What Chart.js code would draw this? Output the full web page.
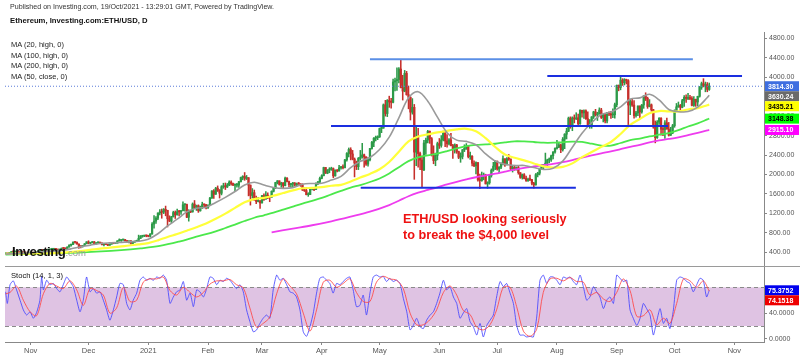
<!DOCTYPE html>
<html><head><meta charset="utf-8">
<script src="https://cdn.jsdelivr.net/npm/chart.js@4.4.0/dist/chart.umd.min.js"></script>
<style>
html,body{margin:0;padding:0;background:#fff;}
#wrap{position:relative;width:800px;height:357px;overflow:hidden;font-family:"Liberation Sans",Arial,sans-serif;background:#fff;}
canvas{position:absolute;left:0;top:0;}
.t{position:absolute;white-space:nowrap;color:#222;line-height:10px;}
</style></head><body>
<div id="wrap">
<canvas id="stoch" width="800" height="357" style="width:800px;height:357px"></canvas>
<canvas id="main" width="800" height="357" style="width:800px;height:357px"></canvas>
<div class="t" style="left:10px;top:2px;font-size:7.1px;color:#333">Published on Investing.com, 19/Oct/2021 - 13:29:01 GMT, Powered by TradingView.</div>
<div class="t" style="left:10px;top:16px;font-size:7.7px;font-weight:bold;color:#111">Ethereum, Investing.com:ETH/USD, D</div>
<div class="t" style="left:11px;top:40px;font-size:7.5px;color:#222;line-height:10.5px">MA (20, high, 0)<br>MA (100, high, 0)<br>MA (200, high, 0)<br>MA (50, close, 0)</div>
<div class="t" style="left:11px;top:271px;font-size:7.6px;color:#111">Stoch (14, 1, 3)</div>
<div class="t" style="left:403px;top:211px;font-size:12.7px;font-weight:bold;color:#ee1111;line-height:16px">ETH/USD looking seriously<br>to break the $4,000 level</div>
<div class="t" style="left:12px;top:244px;line-height:14px"><span style="font-size:13.2px;font-weight:bold;color:#111;letter-spacing:-0.5px">Investing</span><span style="font-size:9.5px;color:#999">.com</span></div>
<div style="position:absolute;left:5px;top:266px;width:795px;height:1px;background:#9a9a9a"></div>
</div>
<script>
// ---------- DATA ----------
// daily candles, 19 Oct 2020 (day 0) .. 19 Oct 2021 (day 365)
const firstOpen = 368;
const closes = [
379,368,392,413,409,412,406,393,404,388,386,383,386,
396,383,388,402,415,454,435,454,444,449,462,462,475,461,448,460,480,479,472,509,549,558,608,603,569,518,517,538,575,614,
587,598,616,570,596,601,591,555,573,559,545,568,590,586,589,636,643,655,659,638,609,634,584,612,626,637,685,730,732,751,737,
730,775,979,1041,1100,1208,1225,1224,1281,1262,1090,1043,1130,1218,1171,1233,1230,1257,1377,1382,1121,1236,1231,1391,1324,1357,1253,1332,1382,1376,1314,
1369,1515,1660,1594,1718,1677,1614,1747,1768,1744,1783,1843,1814,1781,1781,1781,1849,1937,1960,1919,1935,1781,1570,1626,1475,1446,1459,1416,
1564,1492,1575,1541,1533,1654,1723,1835,1869,1795,1826,1772,1924,1854,1792,1806,1823,1782,1811,1806,1787,1681,1669,1584,1588,1702,1716,1691,1819,1846,1919,
1977,2143,2028,2093,2108,2118,1971,2088,2072,2135,2157,2139,2300,2432,2514,2422,2317,2235,2161,2331,2357,2403,2363,2213,2303,2534,2662,2746,2756,2773,
2945,2952,3431,3253,3522,3490,3484,3902,3928,3952,4168,3785,3715,4079,3640,3587,3282,3380,2460,2772,2430,2296,2096,2646,2706,2888,2736,2425,2285,2393,2634,
2598,2712,2856,2690,2630,2711,2594,2517,2608,2472,2353,2372,2508,2537,2588,2368,2373,2231,2178,2245,1889,1875,1971,1990,1806,1829,1983,2089,2170,2275,
2111,2150,2225,2323,2198,2324,2317,2115,2147,2111,2141,2036,1940,1995,1918,1877,1898,1895,1820,1786,1995,2026,2124,2188,2191,2233,2300,2300,2384,2462,2536,
2560,2607,2508,2725,2827,2891,3158,3013,3163,3141,3164,3045,3322,3265,3310,3146,3012,3017,3183,3286,3226,3243,3324,3173,3228,3100,3272,3243,3224,3228,3434,
3834,3788,3939,3887,3953,3928,3428,3497,3427,3211,3265,3407,3286,3429,3613,3567,3398,3432,3330,2977,2758,3077,3155,2931,2925,3062,2934,2807,2853,3001,
3307,3391,3418,3380,3518,3586,3563,3576,3562,3421,3545,3491,3607,3791,3867,3830,3848,3748,3814.3];
const highs = [
385,381,396,416,414,415,416,408,407,407,397,388,392,
399,403,390,407,418,460,456,458,460,452,467,468,477,476,462,463,490,495,486,512,552,563,615,620,617,575,528,541,580,618,
637,599,622,622,598,609,607,593,576,576,560,570,595,590,596,638,676,657,665,667,646,638,642,616,628,649,753,745,741,753,755,
749,787,1011,1157,1134,1210,1280,1290,1300,1350,1265,1150,1140,1245,1250,1290,1265,1260,1440,1395,1390,1275,1265,1415,1465,1370,1375,1350,1430,1390,1385,
1375,1530,1670,1690,1735,1765,1690,1770,1820,1825,1815,1870,1870,1825,1805,1820,1860,1945,1975,2040,1980,1935,1785,1710,1680,1555,1530,1465,
1570,1600,1650,1620,1545,1665,1730,1840,1875,1870,1840,1835,1945,1935,1865,1820,1840,1835,1825,1835,1810,1810,1725,1730,1625,1710,1730,1720,1830,1860,1945,
1995,2150,2145,2100,2140,2150,2135,2095,2100,2190,2165,2200,2310,2450,2545,2550,2495,2340,2275,2350,2495,2640,2420,2365,2345,2540,2680,2760,2790,2795,
2955,2985,3450,3525,3540,3610,3565,3960,3980,4195,4200,4370,4040,4140,4120,3820,3600,3560,3440,2990,2950,2460,2380,2700,2750,2910,2895,2760,2590,2440,2665,
2740,2800,2890,2860,2820,2740,2845,2620,2630,2620,2480,2445,2515,2610,2635,2590,2460,2390,2280,2260,2245,2010,2050,2030,2005,1850,1990,2115,2250,2280,
2275,2160,2240,2385,2320,2345,2410,2320,2190,2190,2155,2180,2040,2010,2020,1965,1925,1985,1900,1840,2020,2045,2130,2200,2195,2440,2315,2340,2400,2470,2550,
2700,2665,2625,2760,2840,2950,3180,3185,3185,3225,3270,3240,3330,3310,3330,3330,3290,3130,3190,3300,3340,3280,3370,3360,3250,3250,3280,3290,3300,3350,3470,
3840,3840,4030,3970,3970,3960,3950,3550,3560,3520,3300,3410,3410,3440,3620,3680,3590,3540,3450,3340,3100,3110,3170,3170,2980,3110,3160,3070,2970,3030,
3330,3460,3490,3440,3545,3620,3640,3670,3625,3600,3600,3550,3610,3810,3900,3970,3900,3890,3880];
const lows = [
367,362,366,390,402,406,403,385,391,381,378,372,378,
384,377,371,376,398,412,430,430,436,440,447,454,455,455,442,443,456,465,467,470,507,525,555,588,565,480,492,505,535,574,
573,570,592,563,565,589,584,550,530,555,537,543,565,575,580,587,628,623,642,630,600,595,568,578,602,620,635,684,708,722,718,
717,715,770,896,994,1070,1170,1100,1195,1150,920,1028,1010,1125,1095,1165,1150,1180,1250,1245,1110,1040,1215,1225,1300,1260,1220,1245,1300,1320,1290,
1300,1370,1510,1510,1590,1650,1515,1580,1715,1690,1730,1770,1780,1770,1660,1740,1735,1845,1890,1880,1895,1560,1370,1515,1470,1400,1435,1300,
1410,1465,1490,1505,1440,1530,1640,1710,1805,1780,1735,1730,1765,1845,1750,1730,1750,1760,1770,1795,1755,1670,1650,1580,1550,1585,1680,1665,1685,1790,1810,
1910,1970,2020,2015,2035,2085,1935,1965,2050,2070,2110,2115,2135,2275,2360,2300,2300,1950,2100,2100,2295,2335,2150,2185,2170,2280,2520,2570,2690,2715,
2760,2860,2950,3200,3190,3380,3365,3470,3720,3730,3880,3780,3530,3700,3630,3350,3120,3240,1900,2180,2150,2100,1740,2080,2410,2650,2640,2380,2220,2180,2300,
2535,2560,2690,2570,2560,2610,2585,2330,2440,2435,2325,2250,2320,2470,2515,2340,2310,2175,2160,2010,1860,1710,1860,1890,1805,1715,1800,1945,2065,2100,
2090,2030,2120,2195,2165,2195,2290,2080,2050,2085,2090,2005,1920,1905,1910,1855,1858,1875,1785,1718,1780,1950,1990,2110,2110,2180,2160,2240,2270,2320,2440,
2520,2550,2450,2480,2530,2730,2880,2950,2900,3060,3130,2985,3030,3180,3150,3130,2990,2950,2950,3150,3200,3110,3240,3150,3080,3060,3060,3210,3150,3170,3160,
3390,3720,3740,3830,3840,3860,3010,3230,3400,3160,3180,3210,3150,3260,3360,3520,3360,3390,3300,2950,2650,2740,3030,2810,2800,2740,2930,2790,2800,2840,
2970,3290,3380,3290,3370,3400,3480,3540,3540,3410,3400,3400,3410,3590,3750,3800,3700,3700,3730];

// moving averages: [day, value]
const ma20High = [[0,362],[5,372],[10,384],[14,395],[19,408],[24,424],[29,439],[34,471],[39,512],[44,546],[49,580],[54,593],[59,600],[64,615],[69,627],[74,670],[79,781],[84,941],[89,1080],[94,1231],[99,1305],[104,1327],[109,1424],[114,1530],[119,1649],[124,1785],[129,1839],[134,1782],[139,1733],[144,1714],[149,1730],[154,1800],[159,1815],[164,1820],[169,1884],[174,1962],[179,2139],[184,2269],[189,2350],[194,2515],[199,2768],[204,3165],[209,3574],[214,3702],[219,3507],[224,3179],[229,2860],[234,2706],[239,2680],[244,2612],[249,2423],[254,2275],[259,2209],[264,2183],[269,2186],[274,2143],[279,2103],[284,2129],[289,2274],[294,2560],[299,2849],[304,3064],[309,3232],[314,3283],[319,3391],[324,3548],[329,3575],[334,3650],[339,3532],[344,3337],[349,3291],[354,3293],[359,3384],[364,3583],[365,3630.24]];
const ma50Close = [[0,370],[10,372],[20,378],[30,395],[40,430],[49,477],[54,494],[59,515],[64,540],[69,561],[74,589],[79,645],[84,715],[89,775],[94,844],[99,915],[104,992],[109,1088],[114,1195],[119,1313],[124,1428],[129,1493],[134,1519],[139,1564],[144,1619],[149,1672],[154,1716],[159,1724],[164,1738],[169,1768],[174,1787],[179,1856],[184,1936],[189,2012],[194,2108],[199,2257],[204,2468],[209,2679],[214,2781],[219,2823],[224,2864],[229,2898],[234,2928],[239,2939],[244,2889],[249,2747],[254,2565],[259,2409],[264,2343],[269,2291],[274,2227],[279,2168],[284,2143],[289,2155],[294,2228],[299,2356],[304,2462],[309,2567],[314,2668],[319,2832],[324,3021],[329,3142],[334,3257],[339,3304],[344,3297],[349,3297],[354,3336],[359,3364],[364,3424],[365,3435.21]];
const ma100High = [[0,350],[20,375],[40,400],[60,445],[70,480],[80,530],[90,620],[99,721],[104,771],[109,830],[114,899],[119,969],[124,1043],[129,1110],[134,1161],[139,1214],[144,1276],[149,1340],[154,1402],[159,1457],[164,1517],[169,1591],[174,1661],[179,1728],[184,1783],[189,1845],[194,1918],[199,2021],[204,2150],[209,2275],[214,2352],[219,2392],[224,2429],[229,2480],[234,2537],[239,2582],[244,2609],[249,2618],[254,2632],[259,2660],[264,2682],[269,2679],[274,2668],[279,2653],[284,2653],[289,2663],[294,2677],[299,2670],[304,2633],[309,2595],[314,2593],[319,2647],[324,2707],[329,2738],[334,2782],[339,2817],[344,2852],[349,2911],[354,2986],[359,3052],[364,3132],[365,3148.38]];
const ma200High = [[138,811],[149,888],[159,956],[169,1037],[179,1132],[189,1234],[199,1371],[204,1460],[209,1553],[214,1625],[219,1681],[224,1736],[229,1795],[234,1849],[239,1898],[244,1943],[249,1979],[254,2017],[259,2059],[264,2099],[269,2135],[274,2164],[279,2191],[284,2218],[289,2254],[294,2297],[299,2345],[304,2392],[309,2435],[314,2473],[319,2519],[324,2568],[329,2609],[334,2659],[339,2699],[344,2730],[349,2765],[354,2809],[359,2856],[364,2907],[365,2915.10]];

// drawn horizontal levels: [price, fromDay, toDay]
const levelTop = [4368, 189, 356.5];
const level4000 = [4025, 281, 382];
const level3000 = [2997, 168.8, 343.6];
const levelLow = [1726, 184.2, 295.8];

// stochastic (14,1,3): [day, value]
const stochK = [[0,73],[0.9,55],[2.3,84],[4,90],[5.7,76],[7.5,60],[9.2,45],[10.9,37],[12.7,42],[14.4,32],[16.1,41],[17.8,60],[18.7,97],[19.6,76],[21.3,91],[23,84],[24.8,86],[26.5,78],[28.2,73],[29.9,84],[31.7,96],[33.4,89],[35.1,81],[36.9,60],[38.6,42],[40.3,60],[42,96],[43.8,73],[45.5,78],[47.2,71],[49,73],[50.7,60],[52.4,45],[54.1,29],[55.9,45],[57.6,65],[59.3,86],[61.1,84],[62.8,55],[64.5,45],[66.2,60],[68,71],[69.7,91],[71.4,96],[73.2,91],[74.9,94],[76.6,91],[78.4,96],[80.1,94],[81.8,99],[83.5,91],[85.3,55],[87,65],[88.7,73],[90.5,76],[92.2,89],[93.9,60],[95.7,71],[97.4,50],[99.1,76],[100.8,73],[102.6,65],[104.3,78],[106,96],[107.7,94],[109.5,84],[111.2,91],[112.9,89],[114.6,94],[116.4,91],[118.1,84],[119.8,78],[121.6,84],[123.3,73],[125,45],[126.7,27],[128.5,11],[130.2,14],[131.9,24],[133.6,32],[135.4,37],[137.1,32],[138.8,76],[140.6,99],[142.3,91],[144,94],[145.8,84],[147.5,73],[149.2,71],[150.9,65],[152.7,45],[154.4,11],[156.1,4],[157.9,19],[159.6,40],[161.3,71],[163,94],[164.8,96],[166.5,91],[168.2,86],[169.9,71],[171.7,86],[173.4,84],[175.1,89],[176.9,94],[178.6,96],[180.3,76],[182,50],[183.8,52],[185.5,68],[187.2,37],[189,71],[190.7,96],[192.4,99],[194.1,96],[195.9,97],[197.6,89],[199.3,94],[201,89],[202.8,91],[204.6,86],[206.3,63],[208.1,42],[209.8,14],[211.5,21],[213.2,32],[215,19],[216.7,16],[218.4,29],[220.2,37],[221.9,42],[223.6,55],[225.3,71],[227.1,91],[228.8,76],[230.5,81],[232.3,65],[234,55],[235.7,32],[237.4,40],[239.2,47],[240.9,27],[242.6,19],[244.4,6],[246.1,24],[247.8,3],[249.6,21],[251.3,29],[253,37],[254.7,65],[256.5,89],[258.2,81],[259.9,86],[261.7,71],[263.4,55],[265.1,21],[266.8,6],[268.6,6],[270.3,3],[272,4],[273.8,3],[275.5,34],[277.2,91],[278.9,99],[280.7,86],[282.4,96],[284.1,96],[285.9,91],[287.6,84],[289.3,96],[291,94],[292.8,96],[294.5,89],[296.2,84],[298,99],[299.7,81],[301.4,60],[303.1,65],[304.9,81],[306.6,73],[308.3,65],[310.1,47],[311.8,60],[313.5,65],[315.3,55],[317,99],[318.7,94],[320.4,89],[322.2,91],[323.9,45],[325.6,32],[327.4,21],[329.1,32],[330.8,55],[332.5,47],[334.3,37],[336,6],[337.7,27],[339.5,47],[341.2,24],[342.9,32],[344.6,16],[346.4,45],[348.1,91],[349.8,96],[351.6,94],[353.3,89],[355,86],[356.7,73],[358.5,84],[360.2,94],[361.9,91],[363.6,65],[365,75.3752]];
const stochD = [[0,70],[2.3,72],[5.7,82],[9.2,60],[12.7,42],[16.1,36],[19.6,70],[23,86],[26.5,82],[29.9,78],[33.4,90],[36.9,76],[40.3,52],[43.8,78],[47.2,75],[50.7,68],[54.1,40],[57.6,48],[61.1,80],[64.5,58],[68,60],[71.4,88],[74.9,93],[78.4,93],[81.8,96],[85.3,75],[88.7,68],[92.2,80],[95.7,72],[99.1,65],[102.6,72],[106,85],[109.5,90],[112.9,90],[116.4,92],[119.8,84],[123.3,79],[126.7,48],[130.2,18],[133.6,24],[137.1,34],[140.6,70],[144,93],[147.5,82],[150.9,70],[154.4,40],[157.9,12],[161.3,45],[164.8,88],[168.2,91],[171.7,80],[175.1,86],[178.6,93],[182,72],[185.5,58],[189,58],[192.4,88],[195.9,97],[199.3,93],[202.8,91],[206.3,78],[209.8,40],[213.2,22],[216.7,22],[220.2,30],[223.6,45],[227.1,72],[230.5,82],[234,68],[237.4,44],[240.9,38],[244.4,18],[247.8,14],[251.3,22],[254.7,45],[258.2,80],[261.7,80],[265.1,50],[268.6,12],[272,4],[275.5,15],[278.9,72],[282.4,93],[285.9,94],[289.3,90],[292.8,95],[296.2,89],[299.7,88],[303.1,68],[306.6,72],[310.1,62],[313.5,58],[317,72],[320.4,93],[323.9,75],[327.4,35],[330.8,36],[334.3,45],[337.7,22],[341.2,32],[344.6,24],[348.1,55],[351.6,93],[355,90],[358.5,80],[361.9,90],[365,74.1518]];
const stochBands = [20, 80];

// axes
const priceTicks = [400,800,1200,1600,2000,2400,2800,3200,3600,4000,4400,4800];
const stochTicks = [0, 40];
const monthDays = [13,43,74,105,133,164,194,225,255,286,317,347,378];
const monthLabels = ['Nov','Dec','2021','Feb','Mar','Apr','May','Jun','Jul','Aug','Sep','Oct','Nov'];

// ---------- CHARTS ----------
const FONT = '"Liberation Sans", Arial, sans-serif';
const X_MIN = -0.31, X_MAX = 393.4;
const opens = closes.map((c, i) => i === 0 ? firstOpen : closes[i - 1]);
const UP = '#2c9a48', DOWN = '#c62f2b';
const candleColor = ctx => closes[ctx.dataIndex] >= opens[ctx.dataIndex] ? UP : DOWN;
const pts = arr => arr.map(([d, v]) => ({x: d, y: v}));
const levelPts = l => [{x: l[1], y: l[0]}, {x: l[2], y: l[0]}];
const last = a => a[a.length - 1][1];

function labelPlugin(id, scaleId, items) {
  return {
    id,
    afterDraw(chart) {
      const ctx = chart.ctx, s = chart.scales[scaleId], x0 = chart.chartArea.right + 1;
      ctx.save();
      ctx.font = 'bold 7px ' + FONT;
      ctx.textBaseline = 'middle'; ctx.textAlign = 'left';
      let prev = -1e9;
      items.forEach(it => {
        let py = s.getPixelForValue(it.value);
        if (py < prev + 10) py = prev + 10;
        prev = py;
        ctx.fillStyle = it.bg; ctx.fillRect(x0, py - 5, 34, 10);
        ctx.fillStyle = it.fg; ctx.fillText(it.value.toFixed(it.dec), x0 + 3, py + 0.5);
      });
      ctx.restore();
    }
  };
}

const mainChart = new Chart(document.getElementById('main'), {
  type: 'bar',
  data: {
    datasets: [
      {type: 'bar', data: closes.map((c, i) => ({x: i, y: [lows[i], highs[i]]})), backgroundColor: candleColor, barThickness: 0.9, grouped: false, order: 10},
      {type: 'bar', data: closes.map((c, i) => ({x: i, y: [opens[i], c]})), backgroundColor: candleColor, barThickness: 1.6, grouped: false, minBarLength: 1, order: 9},
      {type: 'line', data: pts(ma200High), borderColor: '#ee3cee', borderWidth: 1.8, pointRadius: 0, tension: 0.35, order: 4},
      {type: 'line', data: pts(ma100High), borderColor: '#4be84b', borderWidth: 1.8, pointRadius: 0, tension: 0.35, order: 4},
      {type: 'line', data: pts(ma50Close), borderColor: '#ffff3a', borderWidth: 2.2, pointRadius: 0, tension: 0.35, order: 3},
      {type: 'line', data: pts(ma20High), borderColor: '#9a9a9a', borderWidth: 1.6, pointRadius: 0, tension: 0.35, order: 2},
      {type: 'line', data: levelPts(levelTop), borderColor: '#5b8fe6', borderWidth: 2, pointRadius: 0, order: 1},
      {type: 'line', data: levelPts(level4000), borderColor: '#1a2ee0', borderWidth: 2, pointRadius: 0, order: 1},
      {type: 'line', data: levelPts(level3000), borderColor: '#1a2ee0', borderWidth: 2, pointRadius: 0, order: 1},
      {type: 'line', data: levelPts(levelLow), borderColor: '#1a2ee0', borderWidth: 2, pointRadius: 0, order: 1},
      {type: 'line', data: [{x: X_MIN, y: closes[closes.length - 1]}, {x: X_MAX, y: closes[closes.length - 1]}], borderColor: '#5a7ad8', borderWidth: 1, borderDash: [1, 2], pointRadius: 0, order: 0}
    ]
  },
  options: {
    responsive: false, animation: false, devicePixelRatio: 1,
    layout: {padding: {left: 5, top: 32, bottom: 91, right: 0}},
    plugins: {legend: {display: false}, tooltip: {enabled: false}},
    scales: {
      x: {type: 'linear', min: X_MIN, max: X_MAX, offset: false, display: false},
      y: {
        position: 'right', min: 118, max: 4929.5,
        afterFit(s) { s.width = 36; },
        afterBuildTicks(s) { s.ticks = priceTicks.map(v => ({value: v})); },
        ticks: {callback: v => Number(v).toFixed(2), font: {size: 7, family: FONT}, color: '#555', padding: 2},
        grid: {drawOnChartArea: false, tickLength: 3, color: '#888'},
        border: {display: true, color: '#888'}
      }
    }
  },
  plugins: [labelPlugin('priceLabels', 'y', [
    {value: closes[closes.length - 1], bg: '#3e6ee0', fg: '#fff', dec: 2},
    {value: last(ma20High), bg: '#6a6a6a', fg: '#fff', dec: 2},
    {value: last(ma50Close), bg: '#ffff00', fg: '#000', dec: 2},
    {value: last(ma100High), bg: '#00ff00', fg: '#000', dec: 2},
    {value: last(ma200High), bg: '#ff00ff', fg: '#fff', dec: 2}
  ])]
});

const bandPlugin = {
  id: 'bands',
  beforeDatasetsDraw(chart) {
    const ctx = chart.ctx, s = chart.scales.y, a = chart.chartArea;
    const yHi = s.getPixelForValue(stochBands[1]), yLo = s.getPixelForValue(stochBands[0]);
    ctx.save();
    ctx.fillStyle = '#dfc3e3';
    ctx.fillRect(a.left, yHi, a.right - a.left, yLo - yHi);
    ctx.strokeStyle = '#8a8a8a'; ctx.lineWidth = 1; ctx.setLineDash([4, 3]);
    [yHi, yLo].forEach(y => { ctx.beginPath(); ctx.moveTo(a.left, Math.round(y) + 0.5); ctx.lineTo(a.right, Math.round(y) + 0.5); ctx.stroke(); });
    ctx.restore();
  }
};

const stochChart = new Chart(document.getElementById('stoch'), {
  type: 'line',
  data: {
    datasets: [
      {data: pts(stochK), borderColor: 'rgba(70,70,255,0.85)', borderWidth: 1, pointRadius: 0, tension: 0.2, order: 2},
      {data: pts(stochD), borderColor: 'rgba(255,70,70,0.85)', borderWidth: 1, pointRadius: 0, tension: 0.3, order: 1}
    ]
  },
  options: {
    responsive: false, animation: false, devicePixelRatio: 1,
    layout: {padding: {left: 5, top: 267, bottom: 0, right: 0}},
    plugins: {legend: {display: false}, tooltip: {enabled: false}},
    scales: {
      x: {
        type: 'linear', min: X_MIN, max: X_MAX, offset: false,
        afterFit(s) { s.height = 15; },
        afterBuildTicks(s) { s.ticks = monthDays.map(v => ({value: v})); },
        ticks: {callback: v => monthLabels[monthDays.indexOf(v)], autoSkip: false, maxRotation: 0, font: {size: 7.5, family: FONT}, color: '#555', padding: 1},
        grid: {drawOnChartArea: false, tickLength: 3, color: '#888'},
        border: {display: true, color: '#888'}
      },
      y: {
        position: 'right', min: -4.8, max: 111.5,
        afterFit(s) { s.width = 36; },
        afterBuildTicks(s) { s.ticks = stochTicks.map(v => ({value: v})); },
        ticks: {callback: v => Number(v).toFixed(4), font: {size: 7, family: FONT}, color: '#555', padding: 2},
        grid: {drawOnChartArea: false, tickLength: 3, color: '#888'},
        border: {display: true, color: '#888'}
      }
    }
  },
  plugins: [bandPlugin, labelPlugin('stochLabels', 'y', [
    {value: last(stochK), bg: '#0000ee', fg: '#fff', dec: 4},
    {value: last(stochD), bg: '#ee0000', fg: '#fff', dec: 4}
  ])]
});
</script>
</body></html>
